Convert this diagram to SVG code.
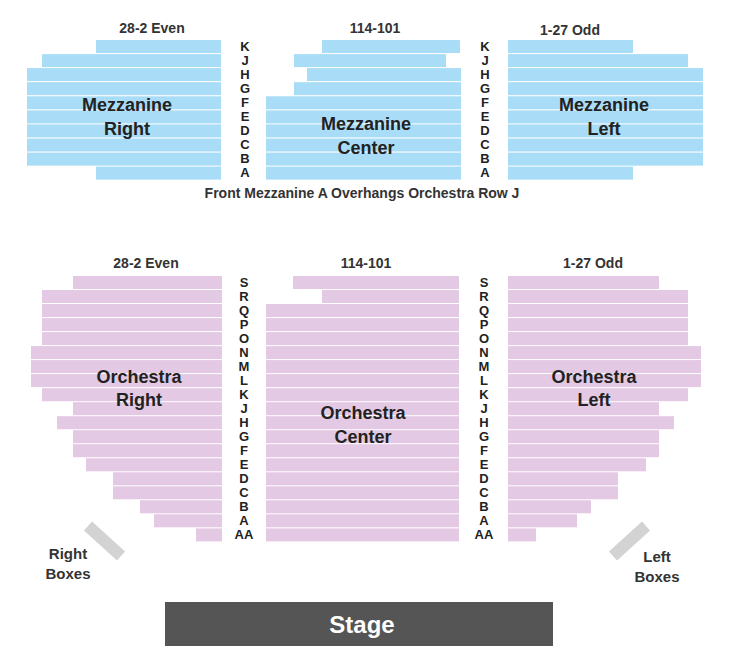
<svg xmlns="http://www.w3.org/2000/svg" width="732" height="663" viewBox="0 0 732 663">
<style>
.m{fill:#a9dcf6}.o{fill:#e3c9e3}
text{font-family:"Liberation Sans",Arial,sans-serif;font-weight:bold;fill:#222}
.h{font-size:14px;fill:#333;text-anchor:middle}
.l{font-size:13px;text-anchor:middle}
.s{font-size:18px;text-anchor:middle}
.box{stroke:#d3d3d3;stroke-width:12}
</style>
<rect width="732" height="663" fill="#fff"/>
<g id="mezz-right">
<rect class="m" x="96" y="40" width="125" height="13"/>
<rect class="m" x="42" y="54.1" width="179" height="13"/>
<rect class="m" x="27" y="68.1" width="194" height="13"/>
<rect class="m" x="27" y="82.2" width="194" height="13"/>
<rect class="m" x="27" y="96.3" width="194" height="13"/>
<rect class="m" x="27" y="110.4" width="194" height="13"/>
<rect class="m" x="27" y="124.4" width="194" height="13"/>
<rect class="m" x="27" y="138.5" width="194" height="13"/>
<rect class="m" x="27" y="152.6" width="194" height="13"/>
<rect class="m" x="96" y="166.6" width="125" height="13"/>
<text class="s" x="127" y="111">Mezzanine</text><text class="s" x="127" y="135">Right</text>
<text class="h" x="152" y="33">28-2 Even</text>
</g>
<g id="mezz-center">
<rect class="m" x="322" y="40" width="138" height="13"/>
<rect class="m" x="294" y="54.1" width="152" height="13"/>
<rect class="m" x="307" y="68.1" width="154" height="13"/>
<rect class="m" x="294" y="82.2" width="167" height="13"/>
<rect class="m" x="266" y="96.3" width="195" height="13"/>
<rect class="m" x="266" y="110.4" width="195" height="13"/>
<rect class="m" x="266" y="124.4" width="195" height="13"/>
<rect class="m" x="266" y="138.5" width="195" height="13"/>
<rect class="m" x="266" y="152.6" width="195" height="13"/>
<rect class="m" x="266" y="166.6" width="195" height="13"/>
<text class="s" x="366" y="130">Mezzanine</text><text class="s" x="366" y="154">Center</text>
<text class="h" x="375" y="33">114-101</text>
</g>
<g id="mezz-left">
<rect class="m" x="508" y="40" width="125" height="13"/>
<rect class="m" x="508" y="54.1" width="180" height="13"/>
<rect class="m" x="508" y="68.1" width="195" height="13"/>
<rect class="m" x="508" y="82.2" width="195" height="13"/>
<rect class="m" x="508" y="96.3" width="195" height="13"/>
<rect class="m" x="508" y="110.4" width="195" height="13"/>
<rect class="m" x="508" y="124.4" width="195" height="13"/>
<rect class="m" x="508" y="138.5" width="195" height="13"/>
<rect class="m" x="508" y="152.6" width="195" height="13"/>
<rect class="m" x="508" y="166.6" width="125" height="13"/>
<text class="s" x="604" y="111">Mezzanine</text><text class="s" x="604" y="135">Left</text>
<text class="h" x="570" y="35">1-27 Odd</text>
</g>
<g id="mezz-letters">
<text class="l" x="245" y="51">K</text><text class="l" x="245" y="65">J</text><text class="l" x="245" y="79">H</text><text class="l" x="245" y="93">G</text><text class="l" x="245" y="107">F</text><text class="l" x="245" y="121">E</text><text class="l" x="245" y="135">D</text><text class="l" x="245" y="149">C</text><text class="l" x="245" y="163">B</text><text class="l" x="245" y="177">A</text>
<text class="l" x="485" y="51">K</text><text class="l" x="485" y="65">J</text><text class="l" x="485" y="79">H</text><text class="l" x="485" y="93">G</text><text class="l" x="485" y="107">F</text><text class="l" x="485" y="121">E</text><text class="l" x="485" y="135">D</text><text class="l" x="485" y="149">C</text><text class="l" x="485" y="163">B</text><text class="l" x="485" y="177">A</text>
</g>
<text class="h" x="362" y="198">Front Mezzanine A Overhangs Orchestra Row J</text>
<g id="orch-right">
<rect class="o" x="73" y="276" width="149" height="13"/>
<rect class="o" x="42" y="290" width="180" height="13"/>
<rect class="o" x="42" y="304" width="180" height="13"/>
<rect class="o" x="42" y="318.1" width="180" height="13"/>
<rect class="o" x="42" y="332.1" width="180" height="13"/>
<rect class="o" x="31" y="346.1" width="191" height="13"/>
<rect class="o" x="31" y="360.1" width="191" height="13"/>
<rect class="o" x="31" y="374.1" width="191" height="13"/>
<rect class="o" x="42" y="388.2" width="180" height="13"/>
<rect class="o" x="73" y="402.2" width="149" height="13"/>
<rect class="o" x="57" y="416.2" width="165" height="13"/>
<rect class="o" x="73" y="430.2" width="149" height="13"/>
<rect class="o" x="73" y="444.2" width="149" height="13"/>
<rect class="o" x="86" y="458.3" width="136" height="13"/>
<rect class="o" x="113" y="472.3" width="109" height="13"/>
<rect class="o" x="113" y="486.3" width="109" height="13"/>
<rect class="o" x="140" y="500.3" width="82" height="13"/>
<rect class="o" x="154" y="514.3" width="68" height="13"/>
<rect class="o" x="196" y="528.4" width="26" height="13"/>
<text class="s" x="139" y="383">Orchestra</text><text class="s" x="139" y="406">Right</text>
<text class="h" x="146" y="268">28-2 Even</text>
</g>
<g id="orch-center">
<rect class="o" x="293" y="276" width="166" height="13"/>
<rect class="o" x="322" y="290" width="137" height="13"/>
<rect class="o" x="266" y="304" width="193" height="13"/>
<rect class="o" x="266" y="318.1" width="193" height="13"/>
<rect class="o" x="266" y="332.1" width="193" height="13"/>
<rect class="o" x="266" y="346.1" width="193" height="13"/>
<rect class="o" x="266" y="360.1" width="193" height="13"/>
<rect class="o" x="266" y="374.1" width="193" height="13"/>
<rect class="o" x="266" y="388.2" width="193" height="13"/>
<rect class="o" x="266" y="402.2" width="193" height="13"/>
<rect class="o" x="266" y="416.2" width="193" height="13"/>
<rect class="o" x="266" y="430.2" width="193" height="13"/>
<rect class="o" x="266" y="444.2" width="193" height="13"/>
<rect class="o" x="266" y="458.3" width="193" height="13"/>
<rect class="o" x="266" y="472.3" width="193" height="13"/>
<rect class="o" x="266" y="486.3" width="193" height="13"/>
<rect class="o" x="266" y="500.3" width="193" height="13"/>
<rect class="o" x="266" y="514.3" width="193" height="13"/>
<rect class="o" x="266" y="528.4" width="193" height="13"/>
<text class="s" x="363" y="419">Orchestra</text><text class="s" x="363" y="443">Center</text>
<text class="h" x="366" y="268">114-101</text>
</g>
<g id="orch-left">
<rect class="o" x="508" y="276" width="151" height="13"/>
<rect class="o" x="508" y="290" width="180" height="13"/>
<rect class="o" x="508" y="304" width="180" height="13"/>
<rect class="o" x="508" y="318.1" width="180" height="13"/>
<rect class="o" x="508" y="332.1" width="180" height="13"/>
<rect class="o" x="508" y="346.1" width="193" height="13"/>
<rect class="o" x="508" y="360.1" width="193" height="13"/>
<rect class="o" x="508" y="374.1" width="193" height="13"/>
<rect class="o" x="508" y="388.2" width="180" height="13"/>
<rect class="o" x="508" y="402.2" width="151" height="13"/>
<rect class="o" x="508" y="416.2" width="166" height="13"/>
<rect class="o" x="508" y="430.2" width="151" height="13"/>
<rect class="o" x="508" y="444.2" width="151" height="13"/>
<rect class="o" x="508" y="458.3" width="138" height="13"/>
<rect class="o" x="508" y="472.3" width="110" height="13"/>
<rect class="o" x="508" y="486.3" width="110" height="13"/>
<rect class="o" x="508" y="500.3" width="83" height="13"/>
<rect class="o" x="508" y="514.3" width="69" height="13"/>
<rect class="o" x="508" y="528.4" width="28" height="13"/>
<text class="s" x="594" y="383">Orchestra</text><text class="s" x="594" y="406">Left</text>
<text class="h" x="593" y="268">1-27 Odd</text>
</g>
<g id="orch-letters">
<text class="l" x="244" y="287">S</text><text class="l" x="244" y="301">R</text><text class="l" x="244" y="315">Q</text><text class="l" x="244" y="329">P</text><text class="l" x="244" y="343">O</text><text class="l" x="244" y="357">N</text><text class="l" x="244" y="371">M</text><text class="l" x="244" y="385">L</text><text class="l" x="244" y="399">K</text><text class="l" x="244" y="413">J</text><text class="l" x="244" y="427">H</text><text class="l" x="244" y="441">G</text><text class="l" x="244" y="455">F</text><text class="l" x="244" y="469">E</text><text class="l" x="244" y="483">D</text><text class="l" x="244" y="497">C</text><text class="l" x="244" y="511">B</text><text class="l" x="244" y="525">A</text><text class="l" x="244" y="539">AA</text>
<text class="l" x="484" y="287">S</text><text class="l" x="484" y="301">R</text><text class="l" x="484" y="315">Q</text><text class="l" x="484" y="329">P</text><text class="l" x="484" y="343">O</text><text class="l" x="484" y="357">N</text><text class="l" x="484" y="371">M</text><text class="l" x="484" y="385">L</text><text class="l" x="484" y="399">K</text><text class="l" x="484" y="413">J</text><text class="l" x="484" y="427">H</text><text class="l" x="484" y="441">G</text><text class="l" x="484" y="455">F</text><text class="l" x="484" y="469">E</text><text class="l" x="484" y="483">D</text><text class="l" x="484" y="497">C</text><text class="l" x="484" y="511">B</text><text class="l" x="484" y="525">A</text><text class="l" x="484" y="539">AA</text>
</g>
<g id="right-boxes">
<line class="box" x1="88" y1="526" x2="121" y2="556"/>
<text class="h" x="68" y="559" style="font-size:15px">Right</text><text class="h" x="68" y="579" style="font-size:15px">Boxes</text>
</g>
<g id="left-boxes">
<line class="box" x1="613" y1="556" x2="646" y2="526"/>
<text class="h" x="657" y="562" style="font-size:15px">Left</text><text class="h" x="657" y="582" style="font-size:15px">Boxes</text>
</g>
<g id="stage">
<rect x="165" y="602" width="388" height="44" fill="#555"/>
<text x="362" y="633" style="font-size:24px;fill:#fff;text-anchor:middle">Stage</text>
</g>
<g id="connectors"/>
</svg>
